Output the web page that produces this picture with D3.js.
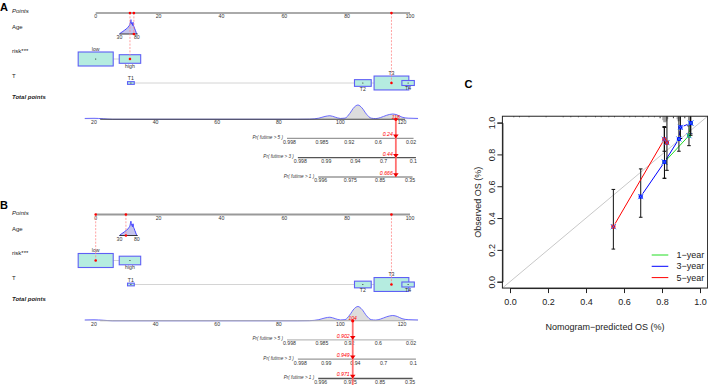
<!DOCTYPE html>
<html><head><meta charset="utf-8">
<script src="https://cdn.jsdelivr.net/npm/d3@7"></script>
<style>
body{margin:0;background:#fff}
svg{display:block}
text{font-family:"Liberation Sans",Arial,sans-serif}
</style>
</head><body>
<svg id="c" width="708" height="385"></svg>
<script>
// ================= DATA =================
// nomogram scales
const pointTicks = [0, 20, 40, 60, 80, 100];
const totalTicks = [20, 40, 60, 80, 100, 120];
const ageTicks = [30, 80];
// age distribution (relative density)
const ageDensAge = [30, 35, 40, 45, 50, 54, 57, 60, 61.5, 63, 64.5, 66, 67.5, 69, 70.5, 72, 74, 76, 78, 80];
const ageDens    = [0, 0.1, 0.18, 0.27, 0.36, 0.46, 0.55, 0.68, 0.85, 1.0, 0.72, 0.78, 0.6, 0.82, 0.58, 0.5, 0.36, 0.24, 0.1, 0];
// risk
const riskLevels = ["low", "high"];
const riskPoints = [0, 10.9];
const riskFreq   = [0.727, 0.273];
// T stage
const tLevels = ["T1", "T2", "T3", "T4"];
const tPoints = [11.2, 85.0, 94.1, 99.4];
const tFreq   = [0.027, 0.166, 0.716, 0.092];
// total points distribution (relative density)
const totDensX = [17, 20, 23, 26, 86, 90, 93, 95, 96.6, 98.3, 100, 101.5, 103, 104.5, 105.7, 107, 108.5, 110, 111.5, 113, 115, 117, 118.5, 120, 122, 125.2];
const totDens  = [0.06, 0.07, 0.04, 0, 0, 0.01, 0.08, 0.2, 0.25, 0.15, 0.06, 0.08, 0.4, 0.85, 1.0, 0.8, 0.35, 0.08, 0.05, 0.12, 0.28, 0.37, 0.3, 0.15, 0.08, 0.06];
// survival probability axes
const prTimes = [5, 3, 1];
const prTicks = [[0.998, 0.985, 0.92, 0.6, 0.02], [0.998, 0.99, 0.94, 0.7, 0.1], [0.996, 0.975, 0.85, 0.35]];
const prAnchorTotal = 104;
const prAnchorValue = [0.902, 0.949, 0.971];
const prSlope = 0.192; // change in log(-log S) per total point
// two example patients (panel A, panel B)
const patAge   = [71.4, 48.6];
const patRisk  = ["high", "low"];
const patT     = ["T3", "T3"];
const patTotal = [118, 104];
const patPrText = [["0.24", "0.44", "0.666"], ["0.902", "0.949", "0.971"]];

// calibration (panel C)
const calTicks = [0, 0.2, 0.4, 0.6, 0.8, 1.0];
const seriesNames = ["1\u2212year", "3\u2212year", "5\u2212year"];
const seriesColors = ["#22dd22", "#0000ff", "#ff0000"];
const calPred = [[0.813, 0.942, 0.951], [0.688, 0.813, 0.889, 0.897, 0.951], [0.544, 0.812, 0.826]];
const calObs  = [[0.752, 0.918, 0.997], [0.535, 0.752, 0.897, 0.970, 0.997], [0.346, 0.895, 0.874]];
const calLo   = [[0.65, 0.855, 0.93], [0.405, 0.65, 0.82, 0.90, 0.92], [0.205, 0.82, 0.70]];
const calHi   = [[0.97, 0.98, 1.06], [0.709, 0.97, 1.06, 1.06, 1.06], [0.58, 0.975, 1.06]];
const rugPred = [0.02, 0.05, 0.1, 0.19, 0.28, 0.32, 0.36, 0.4, 0.45, 0.48, 0.52, 0.55, 0.6, 0.63, 0.66, 0.7, 0.73, 0.76, 0.79, 0.805, 0.81, 0.815, 0.82, 0.825, 0.83, 0.86, 0.88, 0.885, 0.89, 0.895, 0.92, 0.94, 0.945, 0.95];
const rugFreq = [1, 1, 1, 1, 1, 1, 1, 1, 1, 1, 1, 1, 1, 1, 1, 1, 1, 1, 2, 4, 6, 6, 6, 5, 3, 2, 3, 5, 5, 3, 2, 4, 5, 4];

// ================= DRAW =================
const svg = d3.select("#c");
const xPts = d3.scaleLinear().domain([0, 100]).range([95.7, 410]);
const xTot = d3.scaleLinear().domain([20, 120]).range([94, 402]);
const agePts = d3.scaleLinear().domain([30, 80]).range([7.55, 13.1]);
const densH = d3.scaleLinear().domain([0, 1]).range([0, 14.3]);
const boxArea = 675, boxAspect = 2.5;
const cloglog = s => Math.log(-Math.log(s));
const prToTotal = (s, i) => prAnchorTotal + (cloglog(s) - cloglog(prAnchorValue[i])) / prSlope;

function boxDims(f) { const h = Math.sqrt(boxArea * f / boxAspect); return [h * boxAspect, h]; }

function drawDensity(g, xs, ds, xf, baseY, fill, stroke) {
  const pts = xs.map((x, i) => [xf(x), ds[i]]);
  const area = d3.area().x(d => d[0]).y0(baseY).y1(d => baseY - densH(d[1])).curve(d3.curveMonotoneX);
  const line = d3.line().x(d => d[0]).y(d => baseY - densH(d[1])).curve(d3.curveMonotoneX);
  g.append("path").attr("d", area(pts)).attr("fill", fill);
  g.append("path").attr("d", line(pts)).attr("fill", "none").attr("stroke", stroke).attr("stroke-width", 0.9);
}

function smallText(g, x, y, t, opt = {}) {
  return g.append("text").attr("x", x).attr("y", y).text(t)
    .attr("font-size", opt.size || 5.2).attr("fill", opt.fill || "#333")
    .attr("text-anchor", opt.anchor || "middle")
    .attr("font-style", opt.italic ? "italic" : "normal")
    .attr("font-weight", opt.bold ? "bold" : "normal");
}

function drawPanel(oy, p) {
  const g = svg.append("g").attr("transform", `translate(0,${oy})`);
  const Y = { points: 13, age: 34, risk: 59, T: 83, total: 119.3, pr: [138.3, 157.7, 177] };
  const lineCols = p === 0 ? { pts: "#aaa", tot: "#444", pr: ["#999", "#555", "#999"] }
                           : { pts: "#999", tot: "#aaa", pr: ["#bbb", "#999", "#555"] };
  // row labels
  smallText(g, 12, 13, "Points", { anchor: "start", size: 6, italic: true, fill: "#222" });
  smallText(g, 12, 29, "Age", { anchor: "start", size: 6, fill: "#222" });
  smallText(g, 12, 53, "risk***", { anchor: "start", size: 6, fill: "#222" });
  smallText(g, 12, 78, "T", { anchor: "start", size: 6, fill: "#222" });
  smallText(g, 12, 99, "Total points", { anchor: "start", size: 6, italic: true, bold: true, fill: "#222" });

  // Points axis
  g.append("line").attr("x1", xPts(0)).attr("x2", xPts(100)).attr("y1", Y.points).attr("y2", Y.points)
    .attr("stroke", lineCols.pts).attr("stroke-width", 1.8);
  pointTicks.forEach(t => smallText(g, xPts(t), Y.points + 5.3, t));

  // Age
  const ageX = a => xPts(agePts(a));
  drawDensity(g, ageDensAge, ageDens, ageX, Y.age, "#c4c4ec", "#3434ff");
  g.append("line").attr("x1", ageX(30)).attr("x2", ageX(80) + 0.8).attr("y1", Y.age).attr("y2", Y.age)
    .attr("stroke", "#222").attr("stroke-width", 0.9);
  ageTicks.forEach(t => smallText(g, ageX(t), Y.age + 5.4, t));

  // categorical rows
  function catRow(levels, pts, freq, y, sel) {
    g.append("line").attr("x1", xPts(pts[0])).attr("x2", xPts(pts[pts.length - 1])).attr("y1", y).attr("y2", y)
      .attr("stroke", "#d4d4d4").attr("stroke-width", 1);
    levels.forEach((lv, k) => {
      const [w, h] = boxDims(freq[k]);
      const cx = xPts(pts[k]);
      g.append("rect").attr("x", cx - w / 2).attr("y", y - h / 2).attr("width", w).attr("height", h)
        .attr("fill", "#b5ece0").attr("stroke", "#5f5ff5").attr("stroke-width", 1.1);
      g.append("circle").attr("cx", cx).attr("cy", y).attr("r", 0.55).attr("fill", "#111");
      if (k % 2 === 0) smallText(g, cx, y - h / 2 - 1.2, lv);
      else smallText(g, cx, y + h / 2 + 4.6, lv);
    });
    return xPts(pts[levels.indexOf(sel)]);
  }
  const riskX = catRow(riskLevels, riskPoints, riskFreq, Y.risk, patRisk[p]);
  const tX = catRow(tLevels, tPoints, tFreq, Y.T, patT[p]);

  // Total points: distribution, then axis line on top
  drawDensity(g, totDensX, totDens, xTot, Y.total, "#dddddd", "#5a5aff");
  g.append("line").attr("x1", xTot(22)).attr("x2", xTot(121)).attr("y1", Y.total).attr("y2", Y.total)
    .attr("stroke", lineCols.tot).attr("stroke-width", 1.1);
  totalTicks.forEach(t => smallText(g, xTot(t), Y.total + 4.8, t));

  // probability axes
  prTimes.forEach((tm, i) => {
    const y = Y.pr[i];
    const xs = prTicks[i].map(s => xTot(prToTotal(s, i)));
    const x0 = d3.min(xs) - 2.5, x1 = d3.max(xs) + 2.5;
    g.append("line").attr("x1", x0).attr("x2", x1).attr("y1", y).attr("y2", y)
      .attr("stroke", lineCols.pr[i]).attr("stroke-width", 1.3);
    smallText(g, x0 - 4, y + 0.6, `Pr( futime > ${tm} )`, { anchor: "end", size: 4.6, italic: true, fill: "#333" });
    prTicks[i].forEach((s, k) => smallText(g, xs[k], y + 5.3, s));
  });

  // patient readout
  const ageSelX = ageX(patAge[p]);
  const totX = xTot(patTotal[p]);
  const dash = (x, y1, y2) => g.append("line").attr("x1", x).attr("x2", x).attr("y1", y1).attr("y2", y2)
    .attr("stroke", "#ff8a8a").attr("stroke-width", 0.8).attr("stroke-dasharray", "2,1.4");
  dash(ageSelX, Y.points, Y.age);
  dash(riskX, Y.points, Y.risk);
  dash(tX, Y.points, Y.T);
  [[ageSelX, Y.points], [riskX, Y.points], [tX, Y.points], [ageSelX, Y.age], [riskX, Y.risk], [tX, Y.T]]
    .forEach(([x, y]) => g.append("circle").attr("cx", x).attr("cy", y).attr("r", 1.3).attr("fill", "#ff0000"));

  const yEnd = p === 0 ? Y.pr[2] : 200;
  g.append("line").attr("x1", totX).attr("x2", totX).attr("y1", Y.total).attr("y2", yEnd)
    .attr("stroke", "#ff7070").attr("stroke-width", 1.8);
  g.append("circle").attr("cx", totX).attr("cy", Y.total).attr("r", 1.6).attr("fill", "#ff0000");
  smallText(g, totX, Y.total - 0.4, patTotal[p], { fill: "#ff0000", size: 5, italic: true });
  Y.pr.forEach((y, i) => {
    g.append("path").attr("d", `M${totX - 2.8},${y - 3.8}L${totX + 2.8},${y - 3.8}L${totX},${y}Z`).attr("fill", "#ee0000");
    smallText(g, totX - 3, y - 2.2, patPrText[p][i], { anchor: "end", fill: "#ff0000", size: 5.2, italic: true });
  });
}

drawPanel(0, 0);
drawPanel(201.5, 1);

// panel letters
svg.append("text").attr("x", 0).attr("y", 10.5).text("A").attr("font-size", 11).attr("font-weight", "bold");
svg.append("text").attr("x", 0).attr("y", 208.5).text("B").attr("font-size", 11).attr("font-weight", "bold");
svg.append("text").attr("x", 464.5).attr("y", 87.5).text("C").attr("font-size", 11).attr("font-weight", "bold");

// ================= PANEL C =================
const xC = d3.scaleLinear().domain([0, 1]).range([510, 700]);
const yC = d3.scaleLinear().domain([0, 1]).range([281.7, 122.6]);
const L = xC(-0.04), R = xC(1.04), T = yC(1.04), B = yC(-0.04);
const gc = svg.append("g");
svg.append("defs").append("clipPath").attr("id", "pc").append("rect")
  .attr("x", L).attr("y", T).attr("width", R - L).attr("height", B - T);
const gd = gc.append("g").attr("clip-path", "url(#pc)");

gd.append("line").attr("x1", xC(-0.04)).attr("y1", yC(-0.04)).attr("x2", xC(1.04)).attr("y2", yC(1.04))
  .attr("stroke", "#c8c8c8").attr("stroke-width", 1);

// risk distribution spikes at top
const rugH = d3.scaleLinear().domain([0, 6]).range([0, 6]);
rugPred.forEach((v, i) => gd.append("line").attr("x1", xC(v)).attr("x2", xC(v)).attr("y1", T).attr("y2", T + rugH(rugFreq[i]))
  .attr("stroke", rugFreq[i] > 2 ? "#888" : "#333").attr("stroke-width", 1));

// series
seriesNames.forEach((nm, s) => {
  const col = seriesColors[s];
  const px = calPred[s].map(xC), py = calObs[s].map(yC);
  for (let k = 0; k < px.length - 1; k++) {
    const dx = px[k + 1] - px[k], dy = py[k + 1] - py[k], len = Math.hypot(dx, dy), gap = 3.5;
    if (len > 2 * gap) {
      gd.append("line").attr("x1", px[k] + dx / len * gap).attr("y1", py[k] + dy / len * gap)
        .attr("x2", px[k + 1] - dx / len * gap).attr("y2", py[k + 1] - dy / len * gap)
        .attr("stroke", col).attr("stroke-width", 1);
    }
  }
  px.forEach((x, k) => {
    const y1 = yC(calLo[s][k]), y2 = yC(calHi[s][k]);
    gd.append("line").attr("x1", x).attr("x2", x).attr("y1", y1).attr("y2", y2).attr("stroke", "#111").attr("stroke-width", 1);
    [y1, y2].forEach(y => gd.append("line").attr("x1", x - 1.8).attr("x2", x + 1.8).attr("y1", y).attr("y2", y)
      .attr("stroke", "#111").attr("stroke-width", 1));
  });
  px.forEach((x, k) => {
    const y = py[k];
    gd.append("rect").attr("x", x - 2).attr("y", y - 2).attr("width", 4).attr("height", 4).attr("fill", col);
    gd.append("path").attr("d", `M${x - 2.6},${y - 2.6}L${x + 2.6},${y + 2.6}M${x - 2.6},${y + 2.6}L${x + 2.6},${y - 2.6}`)
      .attr("stroke", "#2f6fff").attr("stroke-width", 0.9);
  });
});

// frame
gc.append("rect").attr("x", L).attr("y", T).attr("width", R - L).attr("height", B - T)
  .attr("fill", "none").attr("stroke", "#222").attr("stroke-width", 1);

// axes
const xAx = d3.axisBottom(xC).tickValues(calTicks).tickFormat(d3.format(".1f")).tickSize(5).tickPadding(4);
const ga = gc.append("g").attr("transform", `translate(0,${B})`).call(xAx);
ga.select(".domain").attr("stroke", "#222");
ga.selectAll(".tick line").attr("stroke", "#222");
ga.selectAll(".tick text").attr("font-size", 9).attr("fill", "#222").attr("font-family", '"Liberation Sans", Arial, sans-serif').attr("dy", "0.9em");

const yAx = d3.axisLeft(yC).tickValues(calTicks).tickFormat(d3.format(".1f")).tickSize(5).tickPadding(4);
const gy = gc.append("g").attr("transform", `translate(${L},0)`).call(yAx);
gy.select(".domain").attr("stroke", "#222");
gy.selectAll(".tick line").attr("stroke", "#222");
gy.selectAll(".tick text").attr("font-size", 9).attr("fill", "#222").attr("font-family", '"Liberation Sans", Arial, sans-serif')
  .attr("text-anchor", "middle").attr("x", 0).attr("dy", 0)
  .attr("transform", "translate(-10.5,0) rotate(-90)").attr("dominant-baseline", "central");

gc.append("text").attr("x", 605).attr("y", 330).attr("text-anchor", "middle").attr("font-size", 9).attr("fill", "#222")
  .text("Nomogram\u2212predicted OS (%)");
gc.append("text").attr("transform", `translate(477.5,${(T + B) / 2}) rotate(-90)`).attr("text-anchor", "middle")
  .attr("dominant-baseline", "central").attr("font-size", 9).attr("fill", "#222").text("Observed OS (%)");

// legend
const legY = [255, 266.3, 277.6];
seriesNames.forEach((nm, s) => {
  gc.append("line").attr("x1", 651.7).attr("x2", 668.3).attr("y1", legY[s]).attr("y2", legY[s])
    .attr("stroke", seriesColors[s]).attr("stroke-width", 1);
  gc.append("text").attr("x", 676.5).attr("y", legY[s]).attr("dominant-baseline", "central")
    .attr("font-size", 9).attr("fill", "#222").text(nm);
});
</script>
</body></html>
